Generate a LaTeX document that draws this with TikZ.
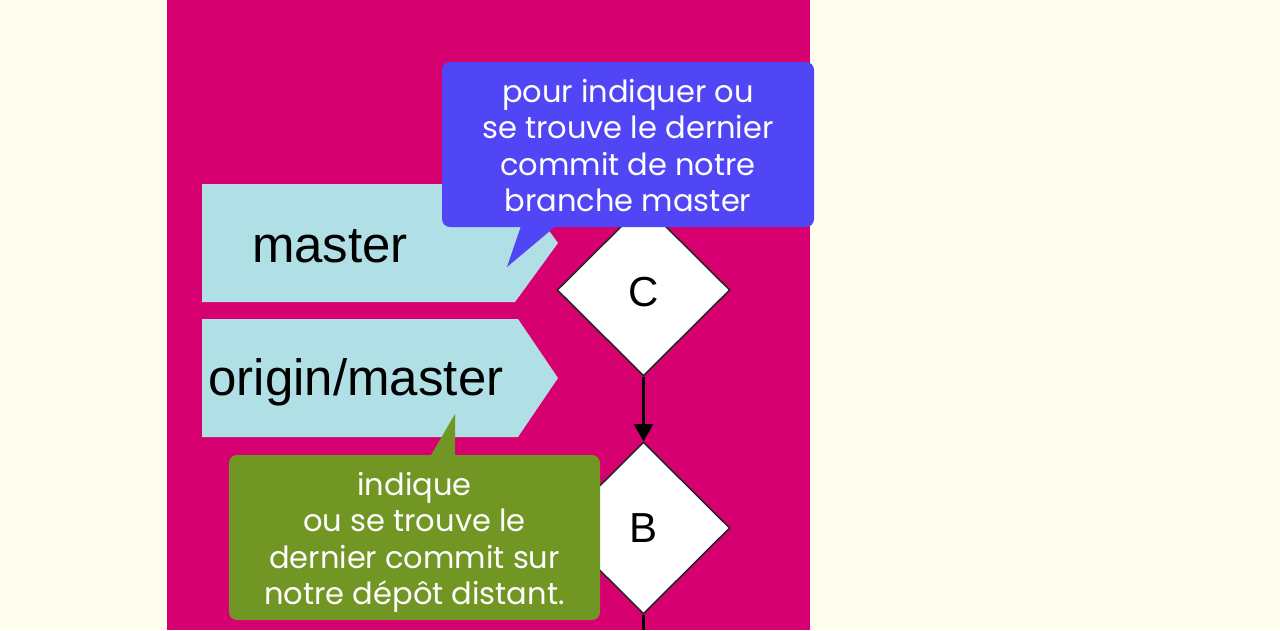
\documentclass[tikz,border=0pt]{standalone}
\usepackage{fontspec}
\setmainfont{Liberation Sans}
\newfontfamily\callfont{Poppins}
\usetikzlibrary{shapes.geometric,arrows.meta}
\definecolor{bgcream}{RGB}{254,254,238}
\definecolor{panelmag}{RGB}{214,0,112}
\definecolor{branchcyan}{RGB}{176,224,230}
\definecolor{callblue}{RGB}{80,70,245}
\definecolor{callgreen}{RGB}{113,150,36}
\tikzset{
  branchbox/.style={fill=branchcyan, draw=none},
  branchtext/.style={font=\fontsize{51}{51}\selectfont, text=black, inner sep=0pt, anchor=base},
  commit/.style={shape=diamond, fill=white, draw=black!85, line width=1.6pt, minimum width=173pt, minimum height=172pt, inner sep=0pt, font=\fontsize{42}{42}\selectfont},
  callout/.style={rounded corners=8pt, inner sep=0pt},
  callouttext/.style={inner sep=0pt, text=white, align=center, font=\callfont\fontsize{30.5}{36.5}\selectfont},
  link/.style={line width=2.8pt, black, -{Triangle[length=17pt,width=19pt]}}
}
\begin{document}
\begin{tikzpicture}[x=1pt,y=-1pt]
\useasboundingbox (0,0) rectangle (1280,630);
\fill[bgcream] (0,0) rectangle (1280,630);
\fill[panelmag] (167,0) rectangle (810,630);
% branch labels
\fill[branchbox] (202,184) -- (515,184) -- (558,243) -- (515,302) -- (202,302) -- cycle;
\fill[branchbox] (202,319) -- (518,319) -- (558,378) -- (518,437) -- (202,437) -- cycle;
\node[branchtext] (master) at (330,262) {master};
\node[branchtext] (origin) at (356,395) {origin/master};
% commits
\node[commit, text height=33pt, text depth=-3pt] (C) at (643.5,290) {C};
\node[commit] (B) at (643.5,528) {B};
\draw[link] (C.south) -- (B.north);
\coordinate (Bdown) at (643.5,630);
\draw[line width=2.8pt, black] (B.south) -- (Bdown);
% blue callout
\node[callout, fill=callblue, minimum width=372pt, minimum height=165pt] (bluecall) at (628,144.5) {};
\node[callouttext, yshift=-1pt] (bluetext) at (bluecall.center) {pour indiquer ou\\se trouve le dernier\\commit de notre\\branche master};
\coordinate (bluetip) at (507,267);
\fill[callblue] (523,220) -- (bluetip) -- (563,220) -- cycle;
% green callout
\node[callout, fill=callgreen, minimum width=371pt, minimum height=165pt] (greencall) at (414.5,537.5) {};
\node[callouttext, yshift=-5pt] (greentext) at (greencall.center) {indique\\ou se trouve le\\dernier commit sur\\notre dépôt distant.};
\coordinate (greentip) at (455,414);
\fill[callgreen] (427,462) -- (greentip) -- (455,462) -- cycle;
\end{tikzpicture}
\end{document}
